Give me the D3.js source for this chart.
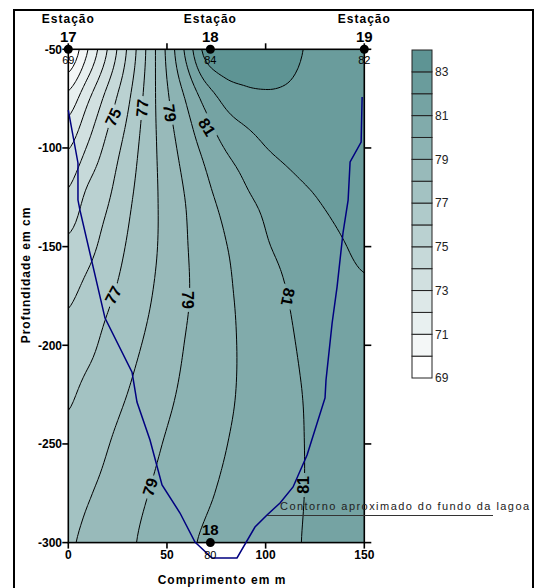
<!DOCTYPE html>
<html>
<head>
<meta charset="utf-8">
<script src="https://cdn.jsdelivr.net/npm/d3@7"></script>
<style>
  body { margin: 0; background: #fff; }
  text { font-family: "Liberation Sans", Arial, sans-serif; }
</style>
</head>
<body>
<svg id="chart" width="536" height="588"></svg>
<script>
// Distance along the transect (m) and depth (cm) of the grid nodes
const distance = [0, 10, 20, 30, 40, 50, 60, 70, 80, 90, 100, 110, 120, 130, 140, 150];
const depth = [-50, -75, -100, -125, -150, -175, -200, -225, -250, -275, -300];

// Gridded values, one row per depth
const temp = [
  [69.00, 71.00, 73.05, 75.10, 77.15, 79.20, 81.30, 83.40, 83.90, 83.75, 83.55, 83.30, 82.97, 82.70, 82.40, 82.10],
  [71.35, 72.86, 74.38, 75.80, 77.35, 78.85, 80.12, 81.39, 82.30, 82.70, 82.85, 82.85, 82.75, 82.65, 82.55, 82.50],
  [72.95, 74.12, 75.30, 76.37, 77.50, 78.52, 79.47, 80.32, 81.07, 81.52, 81.98, 82.25, 82.45, 82.55, 82.58, 82.55],
  [74.22, 75.25, 75.90, 76.78, 77.58, 78.34, 79.07, 79.76, 80.35, 80.87, 81.23, 81.55, 81.85, 82.10, 82.30, 82.45],
  [75.22, 75.72, 76.37, 77.08, 77.68, 78.30, 78.96, 79.47, 79.97, 80.44, 80.91, 81.20, 81.46, 81.72, 81.97, 82.20],
  [75.86, 76.32, 76.85, 77.37, 77.87, 78.40, 78.93, 79.39, 79.84, 80.24, 80.60, 80.96, 81.30, 81.50, 81.70, 81.85],
  [76.37, 76.75, 77.28, 77.70, 78.13, 78.60, 79.06, 79.43, 79.81, 80.16, 80.50, 80.82, 81.15, 81.40, 81.60, 81.80],
  [76.87, 77.27, 77.63, 78.01, 78.42, 78.83, 79.20, 79.52, 79.85, 80.16, 80.45, 80.74, 81.04, 81.30, 81.55, 81.75],
  [77.24, 77.50, 77.96, 78.35, 78.73, 79.08, 79.38, 79.68, 79.98, 80.24, 80.50, 80.75, 81.01, 81.30, 81.55, 81.75],
  [77.57, 77.92, 78.28, 78.63, 78.98, 79.28, 79.59, 79.89, 80.14, 80.36, 80.58, 80.80, 81.01, 81.30, 81.55, 81.75],
  [77.90, 78.21, 78.53, 78.85, 79.18, 79.52, 79.86, 80.11, 80.29, 80.48, 80.66, 80.85, 81.04, 81.30, 81.55, 81.75]
];

// Colour bands and contour lines
const bandLevels = [69, 70, 71, 72, 73, 74, 75, 76, 77, 78, 79, 80, 81, 82, 83];
const lineLevels = [70, 71, 72, 73, 74, 75, 76, 77, 78, 79, 80, 81, 82, 83];
const legendTicks = [69, 71, 73, 75, 77, 79, 81, 83];

// Sampling stations
const stationNames = ["17", "18", "19"];
const stationX = [0, 72, 150];
const stationTopValue = [69, 84, 82];
const bottomStationName = "18";
const bottomStationX = 72;
const bottomStationValue = 80;

// Axis ticks
const xTicks = [0, 50, 100, 150];
const yTicks = [-50, -100, -150, -200, -250, -300];

// Approximate outline of the lagoon bottom
const lagoonX = [0, 4.9, 4.9, 5.9, 18.6, 32.3, 34.8, 41.4, 47.5, 56.6, 64.2, 72.8, 85.5, 94.6, 100.7, 107.3, 113.9, 121.0, 130.1, 130.6, 133.7, 136.2, 139.2, 141.8, 142.8, 148.4, 148.9];
const lagoonDepth = [-80.8, -107.6, -126.4, -131.5, -186.2, -213.6, -228.8, -248.0, -270.8, -285.0, -299.7, -307.8, -307.8, -292.1, -286.0, -279.9, -271.8, -255.6, -226.7, -217.6, -188.7, -170.4, -143.1, -126.4, -107.1, -97.0, -74.2];

// Where the contour labels sit on their lines
const labelLevel = [75, 77, 79, 81, 77, 79, 81, 79, 81];
const labelX = [22.7, 37.4, 51.5, 70.3, 22.7, 60.7, 111.4, 41.4, 119.0];
const labelDepth = [-84.3, -79.8, -82.3, -89.4, -174.5, -177.0, -175.5, -271.8, -270.8];
const labelAngle = [-65, -85, 82, 58, -62, 90, 102, -72, -90];

const svg = d3.select("#chart");
const x = d3.scaleLinear().domain([0, 150]).range([68.3, 364.3]);
const y = d3.scaleLinear().domain([-50, -300]).range([49.3, 542.6]);

const lowColor = "#ffffff", highColor = "#5e9494";
const bandColor = v => d3.interpolateRgb(lowColor, highColor)((v - 69) / 14);

// outer frame
svg.append("rect").attr("x", 14).attr("y", 10).attr("width", 519).attr("height", 600)
  .attr("fill", "none").attr("stroke", "#000").attr("stroke-width", 2);

// --- smooth resampling of the grid for drawing (Catmull-Rom) ---
const F = 8;
const nx = distance.length, ny = depth.length;
const NX = (nx - 1) * F + 1, NY = (ny - 1) * F + 1;
function cr(p0, p1, p2, p3, t) {
  const t2 = t * t, t3 = t2 * t;
  return 0.5 * ((2 * p1) + (-p0 + p2) * t + (2 * p0 - 5 * p1 + 4 * p2 - p3) * t2 + (-p0 + 3 * p1 - 3 * p2 + p3) * t3);
}
const at = (i, j) => temp[Math.max(0, Math.min(ny - 1, j))][Math.max(0, Math.min(nx - 1, i))];
const fine = new Array(NX * NY);
for (let J = 0; J < NY; J++) {
  const j = Math.min(ny - 2, Math.floor(J / F)), ty = J / F - j;
  for (let I = 0; I < NX; I++) {
    const i = Math.min(nx - 2, Math.floor(I / F)), tx = I / F - i;
    const col = [];
    for (let m = -1; m <= 2; m++) {
      col.push(cr(at(i - 1, j + m), at(i, j + m), at(i + 1, j + m), at(i + 2, j + m), tx));
    }
    fine[J * NX + I] = cr(col[0], col[1], col[2], col[3], ty);
  }
}
const dStep = distance[1] - distance[0];
const zStep = depth[1] - depth[0];
const proj = d3.geoTransform({
  point: function (cx, cy) {
    this.stream.point(x(distance[0] + (cx - 0.5) / F * dStep), y(depth[0] + (cy - 0.5) / F * zStep));
  }
});
const path = d3.geoPath(proj);

const defs = svg.append("defs");
defs.append("clipPath").attr("id", "plotClip").append("rect")
  .attr("x", x(0)).attr("y", y(-50)).attr("width", x(150) - x(0)).attr("height", y(-300) - y(-50));

// gaps in the contour lines behind labels
const mask = defs.append("mask").attr("id", "labelMask").attr("maskUnits", "userSpaceOnUse")
  .attr("x", 0).attr("y", 0).attr("width", 536).attr("height", 588);
mask.append("rect").attr("x", 0).attr("y", 0).attr("width", 536).attr("height", 588).attr("fill", "#fff");
labelLevel.forEach((lv, k) => {
  mask.append("rect").attr("x", -12).attr("y", -8).attr("width", 24).attr("height", 16).attr("fill", "#000")
    .attr("transform", `translate(${x(labelX[k])},${y(labelDepth[k])}) rotate(${labelAngle[k]})`);
});

const plot = svg.append("g").attr("clip-path", "url(#plotClip)");
const bands = d3.contours().size([NX, NY]).thresholds(bandLevels)(fine);
plot.append("g").selectAll("path").data(bands).join("path")
  .attr("d", path).attr("fill", d => bandColor(d.value)).attr("stroke", "none");

const lines = d3.contours().size([NX, NY]).thresholds(lineLevels)(fine);
plot.append("g").attr("mask", "url(#labelMask)").selectAll("path").data(lines).join("path")
  .attr("d", path).attr("fill", "none").attr("stroke", "#000").attr("stroke-width", 1);

// contour labels
svg.append("g").selectAll("text").data(labelLevel).join("text")
  .attr("transform", (d, k) => `translate(${x(labelX[k])},${y(labelDepth[k])}) rotate(${labelAngle[k]})`)
  .attr("text-anchor", "middle").attr("dy", "0.36em")
  .attr("font-size", 16).attr("font-weight", "bold").text(d => d);

// axes frame
const ax = svg.append("g").attr("stroke", "#000").attr("stroke-width", 1.6);
ax.append("rect").attr("x", x(0)).attr("y", y(-50)).attr("width", x(150) - x(0)).attr("height", y(-300) - y(-50))
  .attr("fill", "none");
xTicks.forEach(v => {
  ax.append("line").attr("x1", x(v)).attr("x2", x(v)).attr("y1", y(-300)).attr("y2", y(-300) + 6);
  ax.append("line").attr("x1", x(v)).attr("x2", x(v)).attr("y1", y(-50)).attr("y2", y(-50) - 6);
});
yTicks.forEach(v => {
  ax.append("line").attr("x1", x(0)).attr("x2", x(0) - 6).attr("y1", y(v)).attr("y2", y(v));
  ax.append("line").attr("x1", x(150)).attr("x2", x(150) + 7).attr("y1", y(v)).attr("y2", y(v));
});
svg.append("g").selectAll("text").data(xTicks).join("text")
  .attr("x", d => x(d)).attr("y", 559).attr("text-anchor", "middle")
  .attr("font-size", 12).attr("font-weight", "bold").text(d => d);
svg.append("g").selectAll("text").data(yTicks).join("text")
  .attr("x", 62).attr("y", d => y(d)).attr("dy", "0.36em").attr("text-anchor", "end")
  .attr("font-size", 12).attr("font-weight", "bold").text(d => d);

// axis titles
svg.append("text").attr("transform", "translate(30,275) rotate(-90)").attr("text-anchor", "middle")
  .attr("font-size", 12).attr("font-weight", "bold").attr("letter-spacing", 1).text("Profundidade em cm");
svg.append("text").attr("x", 222).attr("y", 584).attr("text-anchor", "middle")
  .attr("font-size", 12).attr("font-weight", "bold").attr("letter-spacing", 1).text("Comprimento em m");

// lagoon bottom outline
svg.append("path")
  .attr("d", d3.line().x((d, k) => x(lagoonX[k])).y((d, k) => y(lagoonDepth[k]))(lagoonX))
  .attr("fill", "none").attr("stroke", "#000080").attr("stroke-width", 1.5);

// lagoon note with leader line
svg.append("line").attr("x1", 267).attr("x2", 493).attr("y1", 515.5).attr("y2", 515.5)
  .attr("stroke", "#333").attr("stroke-width", 1);
svg.append("text").attr("x", 280).attr("y", 510).attr("font-size", 11).attr("letter-spacing", 1.45)
  .attr("fill", "#222").text("Contorno aproximado do fundo da lagoa");

// stations
const st = svg.append("g");
stationNames.forEach((n, k) => {
  const cx = x(stationX[k]);
  st.append("circle").attr("cx", cx).attr("cy", y(-50)).attr("r", 4.5).attr("fill", "#000");
  st.append("text").attr("x", cx).attr("y", 23).attr("text-anchor", "middle").attr("font-size", 12)
    .attr("font-weight", "bold").attr("letter-spacing", 1).text("Estação");
  st.append("text").attr("x", cx).attr("y", 42).attr("text-anchor", "middle").attr("font-size", 15)
    .attr("font-weight", "bold").text(n);
  st.append("text").attr("x", cx).attr("y", 64).attr("text-anchor", "middle").attr("font-size", 11)
    .text(stationTopValue[k]);
});
st.append("circle").attr("cx", x(bottomStationX)).attr("cy", y(-300)).attr("r", 4.5).attr("fill", "#000");
st.append("text").attr("x", x(bottomStationX)).attr("y", 535).attr("text-anchor", "middle").attr("font-size", 15)
  .attr("font-weight", "bold").text(bottomStationName);
st.append("text").attr("x", x(bottomStationX)).attr("y", 559).attr("text-anchor", "middle").attr("font-size", 11)
  .text(bottomStationValue);

// colour scale
const ly = d3.scaleLinear().domain([69, 84]).range([378, 50]);
const leg = svg.append("g");
leg.selectAll("rect").data(bandLevels).join("rect")
  .attr("x", 412).attr("width", 20)
  .attr("y", d => ly(d + 1)).attr("height", d => ly(d) - ly(d + 1))
  .attr("fill", d => bandColor(d)).attr("stroke", "#222").attr("stroke-width", 1);
leg.selectAll("text").data(legendTicks).join("text")
  .attr("x", 435).attr("y", d => ly(d)).attr("dy", "0.36em")
  .attr("font-size", 12).attr("fill", "#222").text(d => d);
</script>
</body>
</html>
